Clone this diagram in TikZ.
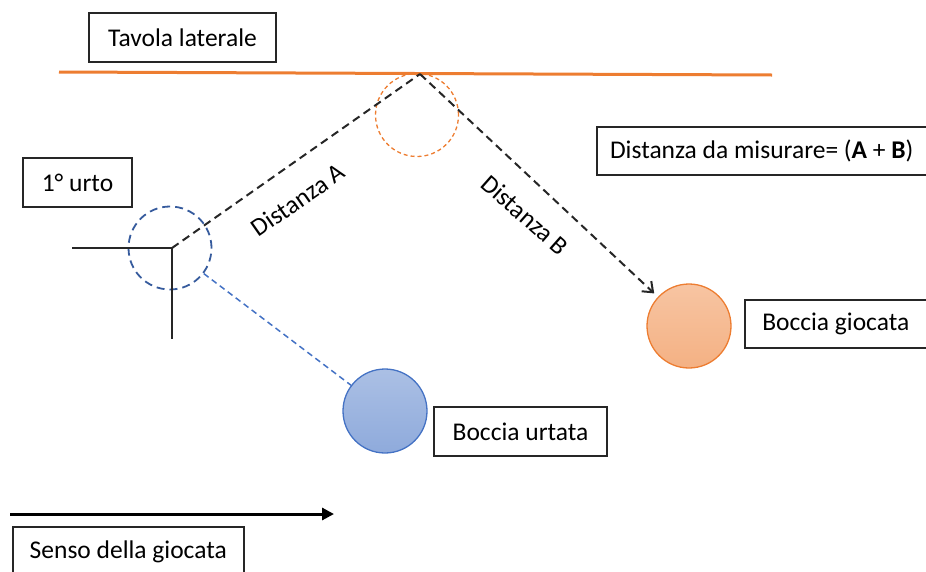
\documentclass[tikz,border=0pt]{standalone}
\usepackage{fontspec}
\setmainfont{Carlito}
\usetikzlibrary{arrows.meta}
\definecolor{orng}{HTML}{ED7D31}
\definecolor{blu}{HTML}{4472C4}
\definecolor{boxline}{HTML}{262626}
\tikzset{
  lbl/.style={draw=boxline, line width=1.5pt, inner sep=0pt, font=\fontsize{25.5}{30}\selectfont, text=black, anchor=center},
  ghost/.style={circle, minimum size=83pt, inner sep=0pt, line width=1.8pt, dash pattern=on 8pt off 5pt},
  ball/.style={circle, minimum size=84pt, inner sep=0pt, line width=1.3pt},
  path dash/.style={line width=2pt, dash pattern=on 8pt off 5pt},
  rot/.style={font=\fontsize{25.5}{30}\selectfont, inner sep=0pt}
}
\begin{document}
\begin{tikzpicture}[x=1pt,y=-1pt]
\useasboundingbox (0,0) rectangle (926,571);
% side board
\coordinate (bl) at (59,72);
\coordinate (br) at (772,75);
\draw[orng, line width=3pt] (bl) -- (br);
% labels
\node[lbl, minimum width=187pt, minimum height=49pt] (tav) at (182.5,37.5) {Tavola laterale};
\node[lbl, minimum width=109pt, minimum height=49pt] (urto) at (77.5,182.5) {1° urto};
\node[lbl, minimum width=330pt, minimum height=48pt, anchor=west] (dist) at (596,151) {Distanza da misurare= (\textbf{A} + \textbf{B})};
\node[lbl, minimum width=182pt, minimum height=48pt, anchor=west] (bgioc) at (744,324) {Boccia giocata};
\node[lbl, minimum width=173pt, minimum height=49pt] (burt) at (520.5,431.5) {Boccia urtata};
\node[lbl, minimum width=231pt, minimum height=50pt, anchor=north west] (senso) at (12,526) {Senso della giocata};
% ghost balls
\node[ghost, draw=orng, line width=1.3pt, dash pattern=on 4pt off 3pt] (og) at (417,115) {};
\node[ghost, draw=blu!80!black] (bg) at (170,248) {};
% balls
\node[ball, draw=blu, top color=blu!45!white, bottom color=blu!60!white] (bu) at (385,411) {};
\node[ball, draw=orng, top color=orng!45!white, bottom color=orng!60!white] (bgc) at (689,326) {};
% right-angle mark
\coordinate (hl) at (72,248);
\coordinate (vl) at (172,339);
\coordinate (cr) at (172,248);
\draw[boxline, line width=1.5pt] (hl) -- (cr) -- (vl);
% paths
\coordinate (hit) at (420,74);
\draw[path dash, black!85] (cr) -- (hit);
\draw[path dash, black!85, -{Straight Barb[length=9pt,width=14pt,line width=2pt]}, shorten >=5pt] (hit) -- (bgc);
\draw[blu, line width=1.5pt, dash pattern=on 6pt off 4pt] (bg) -- (bu);
% path labels
\node[rot, rotate=35] (la) at (298,200) {Distanza A};
\node[rot, rotate=-41.5] (lb) at (525,215) {Distanza B};
% direction arrow
\coordinate (s1) at (10,514);
\coordinate (s2) at (334,514);
\draw[line width=3pt, -{Triangle[length=12pt,width=12pt]}] (s1) -- (s2);
\end{tikzpicture}
\end{document}
